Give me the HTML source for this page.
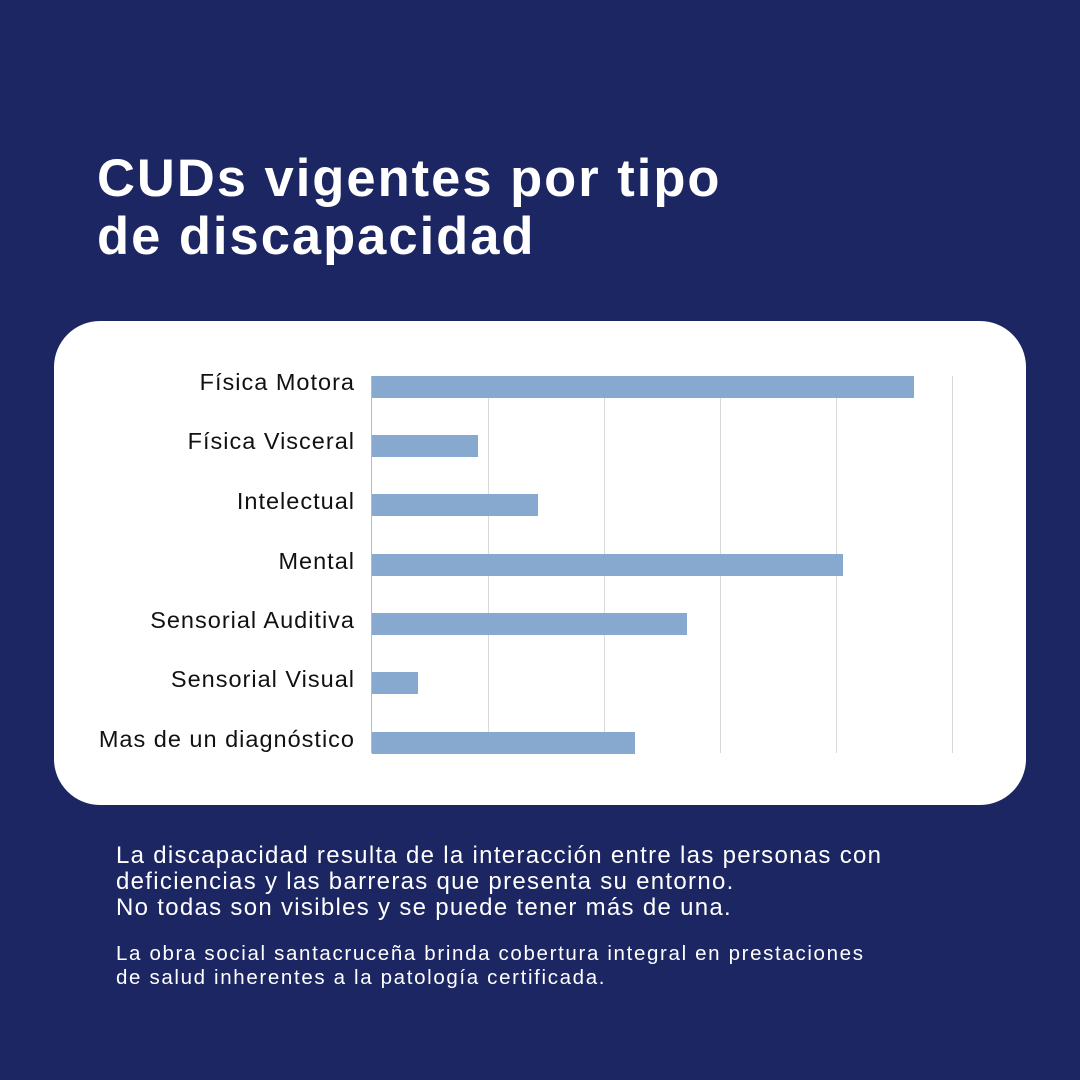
<!DOCTYPE html>
<html><head><meta charset="utf-8"><style>
body{margin:0;width:1080px;height:1080px;background:#1c2662;font-family:"Liberation Sans",sans-serif;position:relative;overflow:hidden}
h1{position:absolute;left:97px;top:150px;margin:0;color:#fff;font-size:52.5px;line-height:58px;font-weight:bold;letter-spacing:2px}
.card{position:absolute;left:54px;top:321px;width:972px;height:484px;background:#fff;border-radius:46px}
.lbl{position:absolute;right:725px;font-size:23.5px;color:#111;white-space:nowrap;letter-spacing:1px}
.grid{position:absolute;top:376px;height:377px;width:1px;background:#d9d9d9}
.bar{position:absolute;left:372px;height:22px;background:#88a9cf}
.t1{position:absolute;left:116px;top:843px;color:#fff;font-size:24px;line-height:26px;letter-spacing:1.3px;white-space:nowrap}
.t2{position:absolute;left:116px;top:942px;color:#fff;font-size:20.5px;line-height:24px;letter-spacing:1.65px;white-space:nowrap}
</style></head><body>
<h1>CUDs vigentes por tipo<br>de discapacidad</h1>
<div class="card"></div>
<div class="grid" style="left:371px;background:#bbb"></div>
<div class="grid" style="left:488px"></div>
<div class="grid" style="left:604px"></div>
<div class="grid" style="left:720px"></div>
<div class="grid" style="left:836px"></div>
<div class="grid" style="left:952px"></div>
<div class="bar" style="top:376px;width:542px"></div>
<div class="bar" style="top:435px;width:106px"></div>
<div class="bar" style="top:494px;width:166px"></div>
<div class="bar" style="top:554px;width:471px"></div>
<div class="bar" style="top:613px;width:315px"></div>
<div class="bar" style="top:672px;width:46px"></div>
<div class="bar" style="top:732px;width:263px"></div>
<div class="lbl" style="top:369px">Física Motora</div>
<div class="lbl" style="top:428px">Física Visceral</div>
<div class="lbl" style="top:488px">Intelectual</div>
<div class="lbl" style="top:548px">Mental</div>
<div class="lbl" style="top:607px">Sensorial Auditiva</div>
<div class="lbl" style="top:666px">Sensorial Visual</div>
<div class="lbl" style="top:726px">Mas de un diagnóstico</div>
<div class="t1">La discapacidad resulta de la interacción entre las personas con<br>deficiencias y las barreras que presenta su entorno.<br>No todas son visibles y se puede tener más de una.</div>
<div class="t2">La obra social santacruceña brinda cobertura integral en prestaciones<br>de salud inherentes a la patología certificada.</div>
</body></html>
